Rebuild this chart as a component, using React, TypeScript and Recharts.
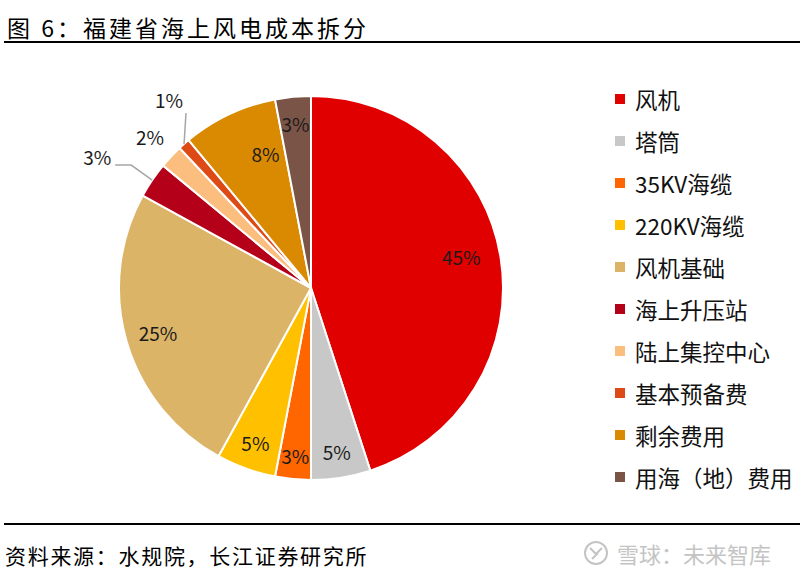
import React from 'react';
import { PieChart, Pie, Cell, Legend } from 'recharts';

const categories = ['风机', '塔筒', '35KV海缆', '220KV海缆', '风机基础', '海上升压站', '陆上集控中心', '基本预备费', '剩余费用', '用海（地）费用'];
const shares = [45, 5, 3, 5, 25, 3, 2, 1, 8, 3];
const colors = ['#E00000', '#C8C8C8', '#FF6600', '#FFC000', '#DBB468', '#B5001A', '#FBBE7E', '#DE4A16', '#DA8A00', '#7A5446'];

const titleText = '图 6：福建省海上风电成本拆分';
const sourceText = '资料来源：水规院，长江证券研究所';
const watermarkText = '雪球：未来智库';

const data = categories.map((name, i) => ({ name, value: shares[i] }));

const RAD = Math.PI / 180;
const labelFont = "'Noto Sans CJK SC', 'Noto Sans', sans-serif";

const insideFrac: Record<number, number> = { 0: 0.8, 1: 0.86, 2: 0.875, 3: 0.855, 4: 0.83, 8: 0.74, 9: 0.86 };
const angleShift: Record<number, number> = { 0: 3, 8: -6.5 };

const renderLabel = (props: any) => {
  const { cx, cy, midAngle, outerRadius, index, value } = props;
  const ang = midAngle + (angleShift[index] ?? 0);
  const cos = Math.cos(-ang * RAD);
  const sin = Math.sin(-ang * RAD);
  const text = `${value}%`;
  const common = { fontFamily: labelFont, fontSize: 19, fill: '#1a1a1a' };
  if (index === 5) {
    const sx = cx + outerRadius * cos;
    const sy = cy + outerRadius * sin;
    return (
      <g key={`l${index}`}>
        <polyline points={`${sx},${sy} ${sx - 21},${sy - 15} ${sx - 37},${sy - 15}`} fill="none" stroke="#A6A6A6" strokeWidth={1.5} />
        <text x={sx - 41} y={sy - 24} textAnchor="end" dominantBaseline="central" {...common}>{text}</text>
      </g>
    );
  }
  if (index === 7) {
    const sx = cx + outerRadius * cos;
    const sy = cy + outerRadius * sin;
    return (
      <g key={`l${index}`}>
        <polyline points={`${sx},${sy} ${sx + 2},${sy - 31}`} fill="none" stroke="#A6A6A6" strokeWidth={1.5} />
        <text x={sx - 15} y={sy - 44} textAnchor="middle" dominantBaseline="central" {...common}>{text}</text>
      </g>
    );
  }
  if (index === 6) {
    const r = outerRadius * 1.15;
    return (
      <text key={`l${index}`} x={cx + r * cos} y={cy + r * sin} textAnchor="middle" dominantBaseline="central" {...common}>{text}</text>
    );
  }
  const r = outerRadius * (insideFrac[index] ?? 0.8);
  return (
    <text key={`l${index}`} x={cx + r * cos} y={cy + r * sin} textAnchor="middle" dominantBaseline="central" {...common}>{text}</text>
  );
};

const renderLegend = () => (
  <div style={{ fontFamily: labelFont }}>
    {categories.map((c, i) => (
      <div key={c} style={{ display: 'flex', alignItems: 'center', height: 42 }}>
        <div style={{ width: 10, height: 10, background: colors[i], marginRight: 10 }} />
        <span style={{ fontSize: 22.5, color: '#111', whiteSpace: 'nowrap' }}>{c}</span>
      </div>
    ))}
  </div>
);

export default function App() {
  return (
    <div style={{ position: 'absolute', left: 0, top: 0, width: 800, height: 579, background: '#fff', overflow: 'hidden' }}>
      <div style={{ position: 'absolute', left: 7, top: 12, fontFamily: "'Noto Sans CJK SC', sans-serif", fontSize: 23, letterSpacing: 3, color: '#000', whiteSpace: 'pre', lineHeight: '30px' }}>
        {titleText}
      </div>
      <div style={{ position: 'absolute', left: 4, top: 41, width: 796, height: 2, background: '#000' }} />
      <div style={{ position: 'absolute', left: 0, top: 0 }}>
        <PieChart width={800} height={579} margin={{ top: 0, right: 0, bottom: 0, left: 0 }}>
          <Pie
            data={data}
            dataKey="value"
            nameKey="name"
            cx={311}
            cy={288}
            outerRadius={192}
            startAngle={90}
            endAngle={-270}
            stroke="#fff"
            strokeWidth={2}
            isAnimationActive={false}
            label={renderLabel}
            labelLine={false}
          >
            {data.map((d, i) => (
              <Cell key={d.name} fill={colors[i]} />
            ))}
          </Pie>
          <Legend
            layout="vertical"
            verticalAlign="top"
            align="right"
            content={renderLegend}
            wrapperStyle={{ position: 'absolute', left: 615, top: 78, width: 185 }}
          />
        </PieChart>
      </div>
      <div style={{ position: 'absolute', left: 4, top: 523, width: 796, height: 2, background: '#000' }} />
      <div style={{ position: 'absolute', left: 5, top: 540, fontFamily: "'Noto Sans CJK SC', sans-serif", fontSize: 21, letterSpacing: 1.7, color: '#000', whiteSpace: 'nowrap', lineHeight: '30px' }}>
        {sourceText}
      </div>
      <div style={{ position: 'absolute', left: 583, top: 539, display: 'flex', alignItems: 'center', color: '#c4c4c4', fontFamily: "'Noto Sans CJK SC', sans-serif", fontSize: 22, whiteSpace: 'nowrap' }}>
        <svg width={26} height={26} style={{ marginRight: 8 }}>
          <circle cx={13} cy={13} r={11} fill="none" stroke="#c4c4c4" strokeWidth={2} />
          <path d="M7 8 L13 14 L19 8 M9 19 L15 13" fill="none" stroke="#c4c4c4" strokeWidth={2} />
        </svg>
        <span style={{ lineHeight: '28px' }}>{watermarkText}</span>
      </div>
    </div>
  );
}
